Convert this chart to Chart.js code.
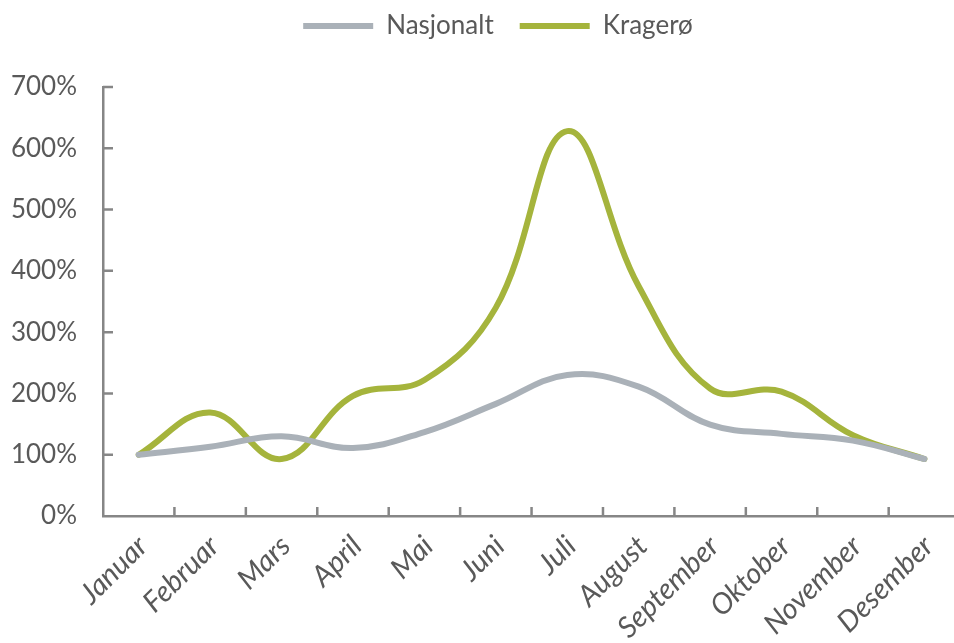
<!DOCTYPE html>
<html>
<head>
<meta charset="utf-8">
<script src="https://cdn.jsdelivr.net/npm/chart.js@4"></script>
<style>
  html, body { margin: 0; padding: 0; background: #fff; overflow: hidden; }
  #wrap { width: 954px; height: 643px; overflow: hidden; }
</style>
</head>
<body>
<div id="wrap"><canvas id="chart" width="962" height="643"></canvas></div>
<script>
// måneder og indeks (januar = 100 %)
const months = ['Januar', 'Februar', 'Mars', 'April', 'Mai', 'Juni', 'Juli',
                'August', 'September', 'Oktober', 'November', 'Desember'];
const nasjonalt = [100, 113, 130, 111, 137, 183, 230, 211, 149, 134, 123, 93];
const kragero   = [100, 169, 93, 196, 222, 340, 628, 375, 208, 203, 132, 93];
const yTicks    = [0, 100, 200, 300, 400, 500, 600, 700];

const axisColor = '#868686';
const textColor = '#595959';

// små innovervendte tick-streker, som i Excel-originalen
const innerTicks = {
  id: 'innerTicks',
  beforeDatasetsDraw(chart) {
    const { ctx, scales: { x, y } } = chart;
    ctx.save();
    ctx.strokeStyle = axisColor;
    ctx.lineWidth = 2.5;
    ctx.beginPath();
    yTicks.slice(1).forEach(v => {
      const py = y.getPixelForValue(v);
      ctx.moveTo(x.left, py); ctx.lineTo(x.left + 10, py);
    });
    for (let i = 0; i < months.length - 1; i++) {
      const px = (x.getPixelForValue(i) + x.getPixelForValue(i + 1)) / 2;
      ctx.moveTo(px, y.bottom); ctx.lineTo(px, y.bottom - 9);
    }
    ctx.stroke();
    ctx.restore();
  }
};

// legenden står litt til høyre for midten i originalen
const legendShift = {
  id: 'legendShift',
  afterLayout(chart) {
    chart.legend.left += 17;
    chart.legend.right += 17;
  }
};

const line = (label, data, color) => ({
  label, data,
  borderColor: color, backgroundColor: color,
  borderWidth: 6, tension: 0.4,
  borderCapStyle: 'round', borderJoinStyle: 'round',
  pointRadius: 0, pointHoverRadius: 0
});

new Chart(document.getElementById('chart'), {
  type: 'line',
  data: {
    labels: months,
    datasets: [
      line('Nasjonalt', nasjonalt, '#aab1b8'),
      line('Kragerø', kragero, '#a5b43c')
    ]
  },
  options: {
    responsive: false,
    animation: false,
    layout: { padding: { top: -13, left: 0, right: 0, bottom: 0 } },
    plugins: {
      tooltip: { enabled: false },
      legend: {
        position: 'top',
        labels: {
          usePointStyle: true, pointStyle: 'line', pointStyleWidth: 70,
          padding: 26,
          color: textColor,
          font: { family: 'Lato, sans-serif', size: 26 }
        }
      },
      // tom undertittel under legenden, bare som luft over plottet
      subtitle: {
        display: true, text: '', weight: 500,
        font: { size: 10, lineHeight: 1 },
        padding: { top: 28, bottom: 0 }
      }
    },
    scales: {
      x: {
        offset: true,
        grid: { display: false, drawTicks: false },
        border: { color: axisColor, width: 2.5 },
        ticks: {
          minRotation: 45, maxRotation: 45, padding: 13, labelOffset: 4,
          color: textColor,
          font: { family: 'Lato, sans-serif', size: 29, style: 'italic' }
        },
        afterFit: s => { s.height = 127; }
      },
      y: {
        min: 0, max: 700,
        grid: { display: false, drawTicks: false },
        border: { color: axisColor, width: 2.5 },
        ticks: {
          stepSize: 100, padding: 26,
          color: textColor,
          font: { family: 'Lato, sans-serif', size: 26 },
          callback: v => v + '%'
        },
        afterFit: s => { s.width = 103; }
      }
    }
  },
  plugins: [innerTicks, legendShift]
});
</script>
</body>
</html>
